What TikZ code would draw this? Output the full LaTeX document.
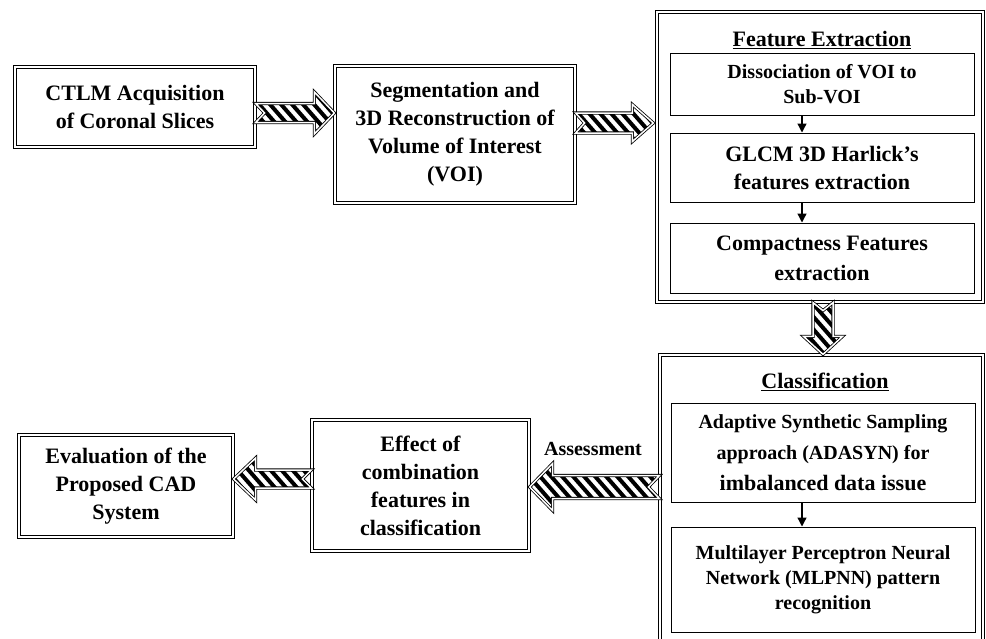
\documentclass[tikz,border=0pt]{standalone}
\usepackage{fontspec}
\setmainfont{Liberation Serif}
\usetikzlibrary{arrows.meta,calc}
\newcommand{\stripedarrow}[6]{%
  \path let \p1=(#1), \p2=(#2),
    \n1={veclen(\x2-\x1,\y2-\y1)}, \n2={atan2(\y2-\y1,\x2-\x1)} in
    \pgfextra{\pgfmathparse{\n1}\xdef\sarrL{\pgfmathresult}\pgfmathparse{\n2}\xdef\sarrA{\pgfmathresult}};
  \def\sarrshape{(0,-#3) -- ({\sarrL-#5},-#3) -- ({\sarrL-#5},-#4) -- (\sarrL,0) -- ({\sarrL-#5},#4) -- ({\sarrL-#5},#3) -- (0,#3) -- (#6,0) -- cycle}%
  \begin{scope}[shift={(#1)}, rotate=\sarrA]
    \fill[white] \sarrshape;
    \begin{scope}
      \clip \sarrshape;
      \begin{scope}[rotate={-1*(\sarrA)}]
        \foreach \k in {-30,...,30}{\draw[line width=4pt] ({\k*11-70},-80) -- ({\k*11+70},80);}
      \end{scope}
    \end{scope}
    \draw[double, double distance=1.5pt, line width=0.8pt, line join=miter] \sarrshape;
  \end{scope}}
\begin{document}
\begin{tikzpicture}[x=1pt,y=-1pt,
  dbox/.style={draw, line width=1.2pt, double, double distance=1.8pt, align=center, inner sep=0pt,
    font=\bfseries\fontsize{22}{28}\selectfont},
  sbox/.style={draw, line width=1pt, align=center, inner sep=0pt, minimum width=304pt},
  ttl/.style={font=\bfseries\fontsize{22}{26}\selectfont, inner sep=0pt},
  lbl/.style={font=\bfseries\fontsize{20}{24}\selectfont, inner sep=0pt},
  smallarrow/.style={-{Triangle[length=9pt,width=9pt]}, line width=1.3pt}]
\useasboundingbox (0,0) rectangle (986,638);
\clip (0,0) rectangle (986,638);
\fill[white] (0,0) rectangle (986,638);

% main boxes
\node[dbox, minimum width=240pt, minimum height=80pt] (b1) at (135,107) {CTLM Acquisition\\of Coronal Slices};
\node[dbox, minimum width=240pt, minimum height=137pt] (b2) at (455,134.5) {Segmentation and\\3D Reconstruction of\\Volume of Interest\\(VOI)};

% feature extraction container
\node[dbox, minimum width=326pt, minimum height=290pt] (fe) at (820,157) {};
\node[ttl] (fet) at (822,40) {\underline{Feature Extraction}};
\node[sbox, minimum height=62pt, font=\bfseries\fontsize{20}{25}\selectfont] (d1) at (822,84) {Dissociation of VOI to\\Sub-VOI};
\node[sbox, minimum height=69pt, font=\bfseries\fontsize{22}{28}\selectfont] (d2) at (822,167.5) {GLCM 3D Harlick’s\\features extraction};
\node[sbox, minimum height=70pt, font=\bfseries\fontsize{22}{30}\selectfont] (d3) at (822,258) {Compactness Features\\extraction};

% classification container
\node[dbox, minimum width=323pt, minimum height=345pt] (cls) at (821.5,527.5) {};
\node[ttl] (clt) at (825,382) {\underline{Classification}};
\node[sbox, minimum height=99pt, font=\bfseries\fontsize{20}{31}\selectfont] (c1) at (823,452.5) {Adaptive Synthetic Sampling\\approach (ADASYN) for\\{\fontsize{22}{31}\selectfont imbalanced data issue}};
\node[sbox, minimum height=105pt, font=\bfseries\fontsize{20}{25}\selectfont] (c2) at (823,579.5) {Multilayer Perceptron Neural\\Network (MLPNN) pattern\\recognition};

% bottom row
\node[dbox, minimum width=214pt, minimum height=102pt] (ev) at (126,486) {Evaluation of the\\Proposed CAD\\System};
\node[dbox, minimum width=217pt, minimum height=131pt] (eff) at (420.5,485.5) {Effect of\\combination\\features in\\classification};
\node[lbl] (asl) at (593,449) {Assessment};

% small arrows
\coordinate (ax) at (802,0);
\draw[smallarrow] (d1.south -| ax) -- (d2.north -| ax);
\draw[smallarrow] (d2.south -| ax) -- (d3.north -| ax);
\draw[smallarrow] (c1.south -| ax) -- (c2.north -| ax);

% striped arrows
\coordinate (a1s) at ($(b1.east)+(0,6)$);
\coordinate (a1e) at (b2.west |- a1s);
\stripedarrow{a1s}{a1e}{9.5}{21}{20}{9}
\coordinate (a2s) at ($(b2.east)+(0,-11.5)$);
\coordinate (a2e) at ($(fe.west |- a2s)+(-3,0)$);
\stripedarrow{a2s}{a2e}{10}{18.5}{21}{9}
\coordinate (a3s) at ($(fe.south)+(3,0)$);
\coordinate (a3e) at (cls.north -| a3s);
\stripedarrow{a3s}{a3e}{10}{19.5}{18}{8}
\coordinate (a4s) at ($(cls.west |- eff.center)+(0,1.5)$);
\coordinate (a4e) at (eff.east |- a4s);
\stripedarrow{a4s}{a4e}{11.5}{23.5}{23}{11}
\coordinate (a5s) at ($(eff.west |- ev.center)+(0,-7)$);
\coordinate (a5e) at (ev.east |- a5s);
\stripedarrow{a5s}{a5e}{9}{21}{22}{9}
\end{tikzpicture}
\end{document}
